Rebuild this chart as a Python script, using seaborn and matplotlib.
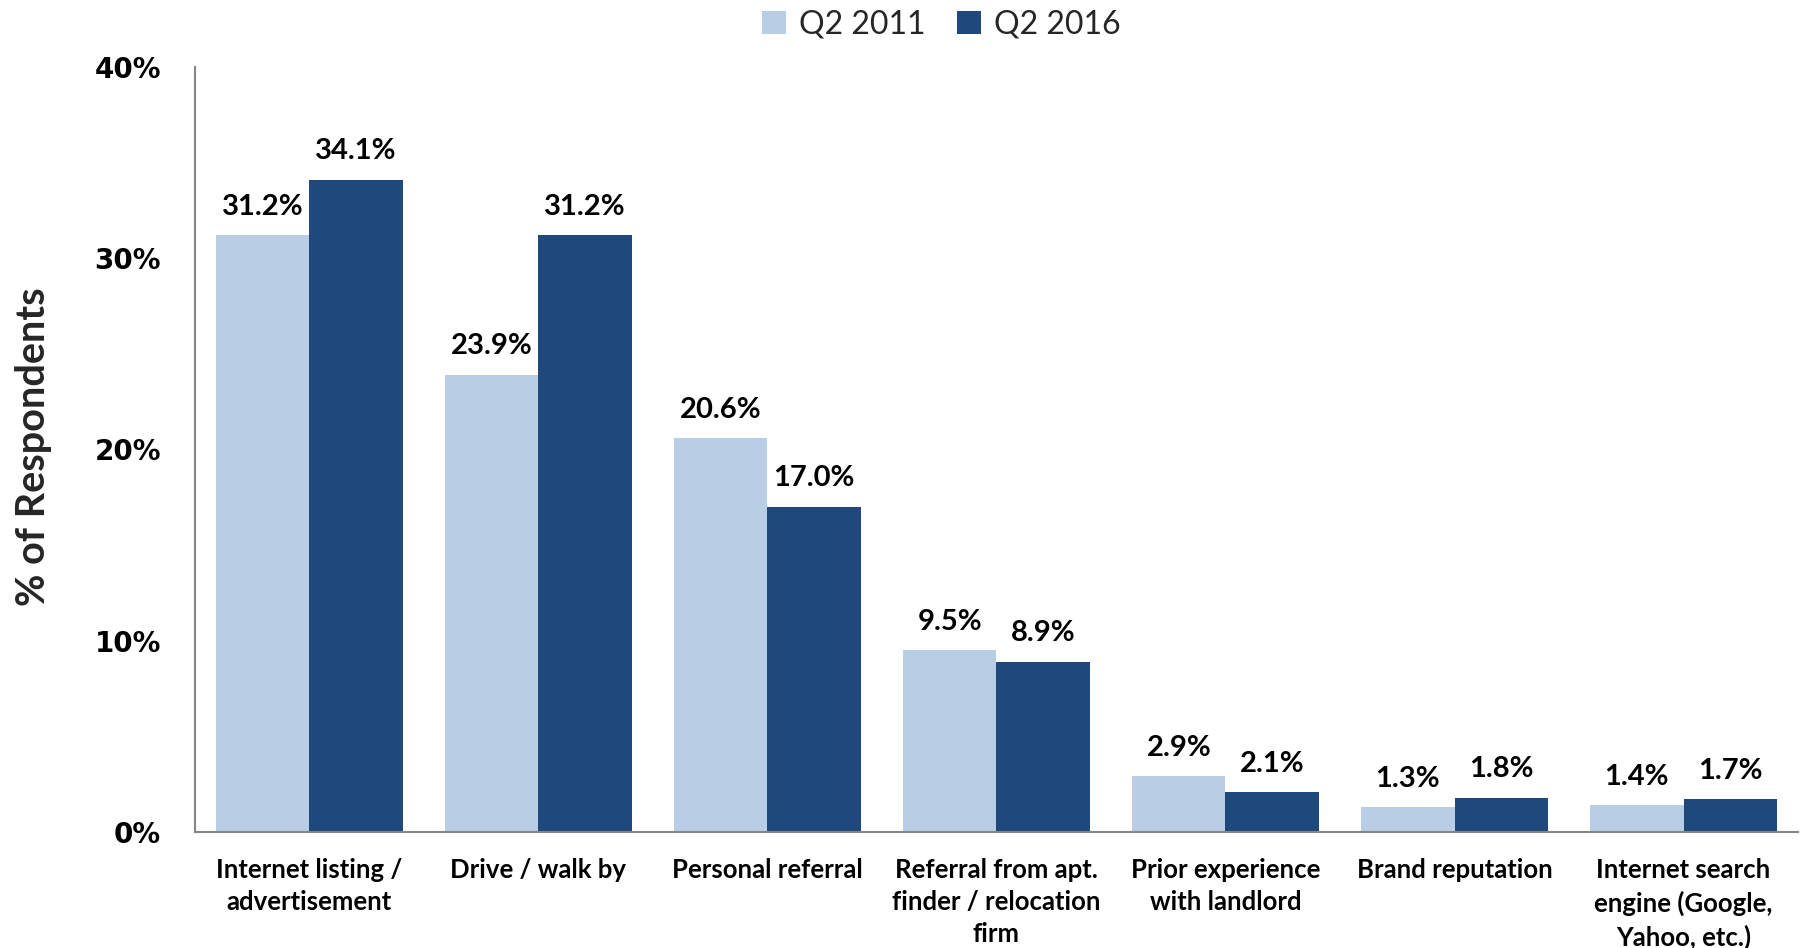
import matplotlib
matplotlib.use("Agg")
import matplotlib.pyplot as plt
import seaborn as sns
import pandas as pd
import numpy as np

categories = ["Internet listing /\nadvertisement", "Drive / walk by", "Personal referral",
              "Referral from apt.\nfinder / relocation\nfirm", "Prior experience\nwith landlord",
              "Brand reputation", "Internet search\nengine (Google,\nYahoo, etc.)"]
series_names = ["Q2 2011", "Q2 2016"]
q2_2011 = [31.2, 23.9, 20.6, 9.5, 2.9, 1.3, 1.4]
q2_2016 = [34.1, 31.2, 17.0, 8.9, 2.1, 1.8, 1.7]
y_ticks = [0, 10, 20, 30, 40]
y_tick_labels = ["0%", "10%", "20%", "30%", "40%"]
colors = ["#B9CDE5", "#1F497D"]

df = pd.DataFrame({
    "category": categories * 2,
    "series": [series_names[0]] * len(categories) + [series_names[1]] * len(categories),
    "value": q2_2011 + q2_2016,
})

sns.set_theme(style="white")
plt.rcParams["font.family"] = ["Lato", "DejaVu Sans"]

fig = plt.figure(figsize=(18, 9.48), dpi=100)
ax = fig.add_axes([0.1083, 0.1224, 0.8906, 0.8073])
sns.barplot(data=df, x="category", y="value", hue="series", palette=colors,
            width=0.815, saturation=1, linewidth=0, ax=ax)

for cont in ax.containers:
    vals = [r.get_height() for r in cont]
    ax.bar_label(cont, labels=[f"{v:.1f}%" for v in vals], padding=11,
                 fontsize=21, fontweight="bold", color="black")

handles, labels = ax.get_legend_handles_labels()
ax.get_legend().remove()
fig.legend(handles, labels, loc="center", bbox_to_anchor=(0.523, 0.974), ncol=2,
           frameon=False, fontsize=23, handlelength=0.75, handleheight=0.75,
           handletextpad=0.4, columnspacing=1.0, borderaxespad=0)

ax.set_xlim(-0.5, len(categories) - 0.5)
ax.set_ylim(0, 40)
ax.set_xticks(range(len(categories)))
ax.set_xticklabels(categories, fontsize=18.5, fontweight="bold", linespacing=1.4)
ax.set_xticks(np.arange(-0.5, len(categories), 1), minor=True)
ax.tick_params(axis="x", which="major", length=0, pad=19, colors="black")
ax.tick_params(axis="x", which="minor", length=6, width=1.2, color="#868686", direction="out")
ax.set_yticks(y_ticks)
ax.set_yticklabels(y_tick_labels, fontsize=20, fontweight="bold", family="DejaVu Sans")
ax.tick_params(axis="y", which="major", length=8.6, width=1.2, color="#868686",
               direction="out", pad=16, labelcolor="black")
ax.set_xlabel("")
ax.set_ylabel("% of Respondents", fontsize=28.5, fontweight="bold", va="center")
ax.yaxis.set_label_coords(-0.1005, 0.503)

for s in ["top", "right"]:
    ax.spines[s].set_visible(False)
for s in ["left", "bottom"]:
    ax.spines[s].set_color("#868686")
    ax.spines[s].set_linewidth(1.5)
ax.grid(False)

fig.savefig("out.png", dpi=100)
